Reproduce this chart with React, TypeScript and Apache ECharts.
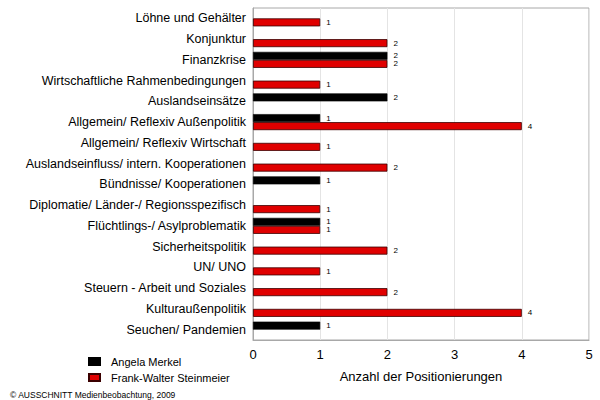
import { useEffect, useRef } from "react";
import * as echarts from "echarts";

const categories = [
  "Löhne und Gehälter",
  "Konjunktur",
  "Finanzkrise",
  "Wirtschaftliche Rahmenbedingungen",
  "Auslandseinsätze",
  "Allgemein/ Reflexiv Außenpolitik",
  "Allgemein/ Reflexiv Wirtschaft",
  "Auslandseinfluss/ intern. Kooperationen",
  "Bündnisse/ Kooperationen",
  "Diplomatie/ Länder-/ Regionsspezifisch",
  "Flüchtlings-/ Asylproblematik",
  "Sicherheitspolitik",
  "UN/ UNO",
  "Steuern - Arbeit und Soziales",
  "Kulturaußenpolitik",
  "Seuchen/ Pandemien",
];

const merkel = [null, null, 2, null, 2, 1, null, null, 1, null, 1, null, null, null, null, 1];
const steinmeier = [1, 2, 2, 1, null, 4, 1, 2, null, 1, 1, 2, 1, 2, 4, null];

const xTicks = [0, 1, 2, 3, 4, 5];

const font = "Liberation Sans, Arial, sans-serif";

function App() {
  const chartRef = useRef<HTMLDivElement>(null);

  useEffect(() => {
    if (!chartRef.current) return;
    const chart = echarts.init(chartRef.current, null, { renderer: "svg" });

    const barLabel = {
      show: true,
      position: "right" as const,
      distance: 6,
      fontSize: 8,
      color: "#000",
      fontFamily: font,
    };

    chart.setOption({
      animation: false,
      textStyle: { fontFamily: font },
      grid: {
        left: 253,
        top: 8,
        width: 336,
        height: 332,
        show: true,
        borderColor: "#a8a8a8",
        borderWidth: 1,
        containLabel: false,
      },
      legend: {
        left: 83,
        top: 351,
        orient: "vertical",
        itemWidth: 11,
        itemHeight: 7,
        itemGap: 5,
        icon: "rect",
        textStyle: { fontSize: 11, color: "#000", fontFamily: font, padding: [0, 0, 0, 6] },
        data: ["Angela Merkel", "Frank-Walter Steinmeier"],
      },
      xAxis: {
        type: "value",
        min: xTicks[0],
        max: xTicks[xTicks.length - 1],
        interval: 1,
        name: "Anzahl der Positionierungen",
        nameLocation: "middle",
        nameGap: 30,
        nameTextStyle: { fontSize: 13, color: "#000", fontFamily: font },
        axisLine: { show: true, lineStyle: { color: "#a8a8a8" } },
        axisTick: { show: false },
        axisLabel: { fontSize: 13, color: "#000", margin: 8, fontFamily: font },
        splitLine: { show: true, lineStyle: { color: "#e4e4e4" } },
      },
      yAxis: {
        type: "category",
        inverse: true,
        data: categories,
        axisLine: { show: true, lineStyle: { color: "#a8a8a8" } },
        axisTick: { show: false },
        axisLabel: { fontSize: 12.5, color: "#000", margin: 7, fontFamily: font },
      },
      series: [
        {
          name: "Angela Merkel",
          type: "bar",
          data: merkel,
          barWidth: 8,
          barGap: "0%",
          itemStyle: { color: "#000000", borderColor: "#000", borderWidth: 0.6 },
          label: barLabel,
        },
        {
          name: "Frank-Walter Steinmeier",
          type: "bar",
          data: steinmeier,
          barWidth: 8,
          barGap: "0%",
          itemStyle: { color: "#e00000", borderColor: "#3a0000", borderWidth: 0.8 },
          label: barLabel,
        },
      ],
      graphic: [
        {
          type: "text",
          left: 10,
          top: 390,
          style: {
            text: "© AUSSCHNITT Medienbeobachtung, 2009",
            fontSize: 8.5,
            fill: "#000",
            fontFamily: font,
          },
        },
      ],
    });

    return () => {
      chart.dispose();
    };
  }, []);

  return <div ref={chartRef} style={{ width: 600, height: 400, position: "absolute", left: 0, top: 0 }} />;
}

export default App;
